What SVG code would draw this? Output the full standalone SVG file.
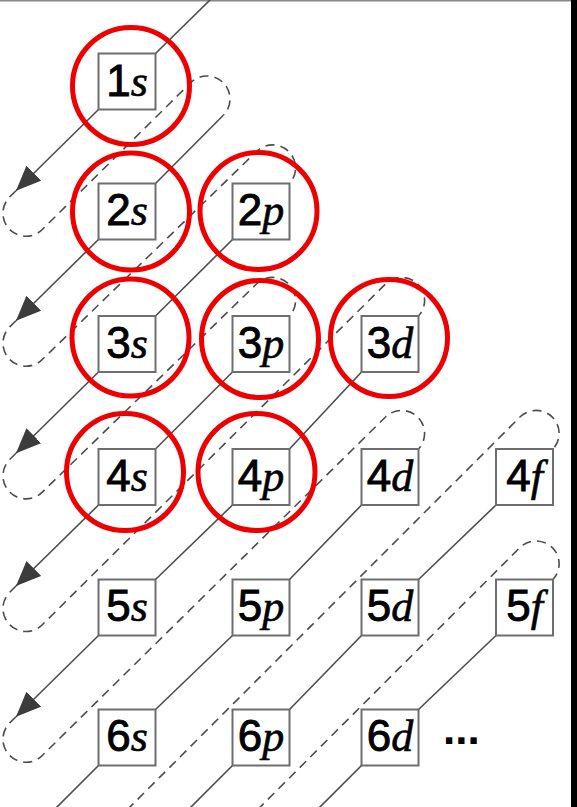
<svg xmlns="http://www.w3.org/2000/svg" width="577" height="807" viewBox="0 0 577 807">
<style>
.box{fill:#fff;stroke:#6e6e6e;stroke-width:2}
.lbl{font-family:'Liberation Sans',Arial,sans-serif;font-size:44px;fill:#000;stroke:#000;stroke-width:0.9;text-anchor:middle}
.it{font-family:'Liberation Serif','Times New Roman',serif;font-style:italic;stroke-width:0.6}
.sol{fill:none;stroke:#4d4d4d;stroke-width:1.6}
.dsh{fill:none;stroke:#4d4d4d;stroke-width:1.6;stroke-dasharray:9 6}
.arr{marker-end:url(#ah)}
.hl{fill:none;stroke:#ee0000;stroke-width:5}
</style>
<defs>
<marker id="ah" viewBox="0 0 25 21" refX="25" refY="10.5" markerWidth="25" markerHeight="21" markerUnits="userSpaceOnUse" orient="auto">
<path d="M0,0 L25,10.5 L0,21 z" fill="#3c3c3c"/>
</marker>
</defs>
<rect x="0" y="0" width="577" height="807" fill="#fff"/>
<rect x="0" y="0" width="571" height="1.5" fill="#888"/>
<rect x="571" y="0" width="6" height="807" fill="#000"/>

<g id="connectors">
<path class="sol" d="M211,-1 L155.5,53.5"/>
<path class="sol arr" d="M98.5,109.5 L16,190.7"/>
<path class="sol" d="M223.3,115.3 L155.5,183.5"/>
<path class="sol arr" d="M98.5,239.5 L16,320.7"/>
<path class="sol" d="M232.5,239.5 L155.5,316"/>
<path class="sol arr" d="M98.5,372 L16,453.3"/>
<path class="sol" d="M232.5,372 L155.5,449"/>
<path class="sol arr" d="M98.5,505 L16,586"/>
<path class="sol" d="M361.5,372 L289.5,449 M232.5,505 L155.5,579.5"/>
<path class="sol arr" d="M98.5,635.5 L16,716.7"/>
<path class="sol" d="M361.5,505 L289.5,579.5 M232.5,635.5 L155.5,709.5 M98.5,765.5 L54,810"/>
<path class="sol" d="M496,505 L418.5,579.5 M361.5,635.5 L289.5,709.5 M232.5,765.5 L188,810"/>
<path class="sol" d="M496,635.5 L418.5,709.5 M361.5,765.5 L317,810"/>
<path class="dsh" d="M16,190.7 L9.7,196.9 A23,23 0 0 0 42.3,229.5 L190.7,82.7 A23,23 0 0 1 223.3,115.3"/>
<path class="dsh" d="M16,320.7 L9.7,326.9 A23,23 0 0 0 42.3,359.5 L257,151 A23,23 0 0 1 289.5,183.5"/>
<path class="dsh" d="M16,453.3 L9.7,459.5 A23,23 0 0 0 42.3,492.1 L257,283.5 A23,23 0 0 1 289.5,316"/>
<path class="dsh" d="M16,586 L9.7,592.2 A23,23 0 0 0 42.3,624.8 L386,283.5 A23,23 0 0 1 418.5,316"/>
<path class="dsh" d="M16,716.7 L9.7,722.9 A23,23 0 0 0 42.3,755.5 L386,416.5 A23,23 0 0 1 418.5,449"/>
<path class="dsh" d="M127,810 L520.5,416.5 A23,23 0 0 1 553,449"/>
<path class="dsh" d="M257.3,810 L520.5,547 A23,23 0 0 1 553,579.5"/>
</g>

<g id="n1s"><rect class="box" x="98.5" y="53.5" width="57" height="56"/><text class="lbl" x="127" y="96">1<tspan class="it">s</tspan></text></g>
<g id="n2s"><rect class="box" x="98.5" y="183.5" width="57" height="56"/><text class="lbl" x="127" y="225">2<tspan class="it">s</tspan></text></g>
<g id="n2p"><rect class="box" x="232.5" y="183.5" width="57" height="56"/><text class="lbl" x="261" y="225">2<tspan class="it">p</tspan></text></g>
<g id="n3s"><rect class="box" x="98.5" y="316" width="57" height="56"/><text class="lbl" x="127" y="358">3<tspan class="it">s</tspan></text></g>
<g id="n3p"><rect class="box" x="232.5" y="316" width="57" height="56"/><text class="lbl" x="261" y="358">3<tspan class="it">p</tspan></text></g>
<g id="n3d"><rect class="box" x="361.5" y="316" width="57" height="56"/><text class="lbl" x="390" y="358">3<tspan class="it">d</tspan></text></g>
<g id="n4s"><rect class="box" x="98.5" y="449" width="57" height="56"/><text class="lbl" x="127" y="491">4<tspan class="it">s</tspan></text></g>
<g id="n4p"><rect class="box" x="232.5" y="449" width="57" height="56"/><text class="lbl" x="261" y="491">4<tspan class="it">p</tspan></text></g>
<g id="n4d"><rect class="box" x="361.5" y="449" width="57" height="56"/><text class="lbl" x="390" y="491">4<tspan class="it">d</tspan></text></g>
<g id="n4f"><rect class="box" x="496" y="449" width="57" height="56"/><text class="lbl" x="524.5" y="491">4<tspan class="it">f</tspan></text></g>
<g id="n5s"><rect class="box" x="98.5" y="579.5" width="57" height="56"/><text class="lbl" x="127" y="621">5<tspan class="it">s</tspan></text></g>
<g id="n5p"><rect class="box" x="232.5" y="579.5" width="57" height="56"/><text class="lbl" x="261" y="621">5<tspan class="it">p</tspan></text></g>
<g id="n5d"><rect class="box" x="361.5" y="579.5" width="57" height="56"/><text class="lbl" x="390" y="621">5<tspan class="it">d</tspan></text></g>
<g id="n5f"><rect class="box" x="496" y="579.5" width="57" height="56"/><text class="lbl" x="524.5" y="621">5<tspan class="it">f</tspan></text></g>
<g id="n6s"><rect class="box" x="98.5" y="709.5" width="57" height="56"/><text class="lbl" x="127" y="751">6<tspan class="it">s</tspan></text></g>
<g id="n6p"><rect class="box" x="232.5" y="709.5" width="57" height="56"/><text class="lbl" x="261" y="751">6<tspan class="it">p</tspan></text></g>
<g id="n6d"><rect class="box" x="361.5" y="709.5" width="57" height="56"/><text class="lbl" x="390" y="751">6<tspan class="it">d</tspan></text></g>
<g id="more"><text x="443" y="744" style="font-family:'Liberation Sans',Arial,sans-serif;font-size:44px;font-weight:bold;fill:#000">...</text></g>

<g id="highlights">
<circle class="hl" cx="131" cy="86" r="58.5"/>
<circle class="hl" cx="131" cy="211.5" r="58.5"/>
<circle class="hl" cx="258.5" cy="211" r="58.5"/>
<circle class="hl" cx="130.5" cy="337.5" r="58.5"/>
<circle class="hl" cx="260" cy="339" r="58.5"/>
<circle class="hl" cx="389" cy="338" r="58.5"/>
<circle class="hl" cx="125" cy="472" r="58.5"/>
<circle class="hl" cx="256.5" cy="472" r="58.5"/>
</g>
</svg>
